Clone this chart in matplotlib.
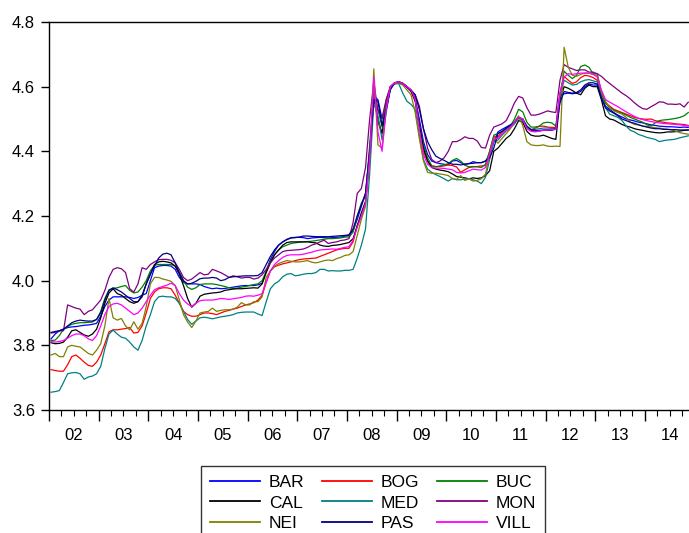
import numpy as np
import matplotlib.pyplot as plt

plt.rcParams['font.family'] = ['Liberation Sans', 'DejaVu Sans']

# monthly log price index by city, Jan 2002 - Nov 2014
BAR = [3.82, 3.835, 3.845, 3.85, 3.855, 3.857, 3.858, 3.86, 3.862, 3.863, 3.865, 3.868,
       3.89, 3.92, 3.94, 3.95, 3.95, 3.95, 3.95, 3.948, 3.945, 3.948, 3.955, 3.96,
       4.0, 4.04, 4.045, 4.047, 4.047, 4.045, 4.035, 4.01, 3.995, 3.99, 3.99, 3.99,
       3.988, 3.982, 3.978, 3.975, 3.977, 3.975, 3.976, 3.978, 3.98, 3.982, 3.984, 3.985,
       3.985, 3.985, 3.987, 3.992, 4.03, 4.065, 4.09, 4.11, 4.12, 4.128, 4.133, 4.134,
       4.134, 4.133, 4.13, 4.132, 4.133, 4.134, 4.133, 4.132, 4.133, 4.134, 4.135, 4.137,
       4.14, 4.155, 4.19, 4.23, 4.27, 4.40, 4.57, 4.56, 4.50, 4.54, 4.595, 4.61,
       4.61, 4.608, 4.6, 4.59, 4.565, 4.5, 4.43, 4.39, 4.37, 4.365, 4.362, 4.36,
       4.358, 4.37, 4.372, 4.365, 4.36, 4.362, 4.368, 4.365, 4.365, 4.37, 4.39, 4.43,
       4.46, 4.468, 4.475, 4.482, 4.49, 4.505, 4.495, 4.475, 4.465, 4.463, 4.465, 4.466,
       4.466, 4.466, 4.468, 4.57, 4.578, 4.58, 4.578, 4.58, 4.585, 4.6, 4.608, 4.605,
       4.605, 4.57, 4.54, 4.53, 4.52, 4.512, 4.506, 4.5, 4.497, 4.494, 4.49, 4.488,
       4.485, 4.482, 4.48, 4.478, 4.477, 4.476, 4.476, 4.475, 4.474, 4.475, 4.474]

BOG = [3.725, 3.722, 3.72, 3.72, 3.74, 3.765, 3.77, 3.76, 3.748, 3.738, 3.735, 3.748,
       3.77, 3.805, 3.842, 3.848, 3.848, 3.85, 3.852, 3.855, 3.838, 3.84, 3.86, 3.9,
       3.945, 3.965, 3.975, 3.978, 3.978, 3.975, 3.955, 3.93, 3.905, 3.895, 3.89, 3.89,
       3.895, 3.9, 3.9, 3.898, 3.895, 3.9, 3.905, 3.908, 3.912, 3.915, 3.92, 3.925,
       3.928, 3.932, 3.94, 3.955, 3.995, 4.03, 4.043, 4.048, 4.052, 4.055, 4.058, 4.062,
       4.065, 4.067, 4.068, 4.069, 4.07, 4.075, 4.08, 4.085, 4.09, 4.095, 4.098, 4.1,
       4.1, 4.12, 4.17, 4.2, 4.24, 4.38, 4.6, 4.49, 4.455, 4.54, 4.6, 4.61,
       4.615, 4.61, 4.6, 4.588, 4.56, 4.48, 4.4, 4.37, 4.355, 4.353, 4.353, 4.355,
       4.358, 4.356, 4.352, 4.335, 4.343, 4.35, 4.352, 4.353, 4.355, 4.356, 4.4, 4.445,
       4.445, 4.46, 4.47, 4.478, 4.492, 4.505, 4.5, 4.475, 4.466, 4.472, 4.477, 4.478,
       4.475, 4.474, 4.474, 4.58, 4.632, 4.62, 4.61, 4.615, 4.628, 4.635, 4.633, 4.628,
       4.62, 4.58, 4.55, 4.54, 4.53, 4.525, 4.52, 4.515, 4.51, 4.505, 4.502, 4.5,
       4.499, 4.5, 4.495, 4.492, 4.49, 4.488, 4.487, 4.485, 4.484, 4.483, 4.48]

BUC = [3.815, 3.816, 3.83, 3.85, 3.858, 3.865, 3.868, 3.87, 3.87, 3.871, 3.872, 3.88,
       3.905, 3.945, 3.972, 3.976, 3.978, 3.982, 3.985, 3.97, 3.962, 3.965, 3.98, 4.0,
       4.03, 4.048, 4.05, 4.05, 4.05, 4.05, 4.045, 4.025, 4.0, 3.98, 3.973, 3.978,
       3.988, 3.99, 3.99, 3.99, 3.988, 3.985, 3.982, 3.978, 3.976, 3.977, 3.98, 3.982,
       3.985, 3.988, 3.99, 4.0, 4.028, 4.06, 4.08, 4.095, 4.105, 4.11, 4.115, 4.117,
       4.119, 4.12, 4.121, 4.122, 4.124, 4.126, 4.128, 4.13, 4.13, 4.131, 4.132, 4.135,
       4.135, 4.15, 4.2, 4.24, 4.26, 4.42, 4.58, 4.53, 4.475, 4.56, 4.6, 4.61,
       4.615, 4.61, 4.6, 4.588, 4.56, 4.48, 4.42, 4.38, 4.355, 4.352, 4.355, 4.358,
       4.362, 4.372, 4.378, 4.37, 4.357, 4.352, 4.353, 4.352, 4.35, 4.36, 4.4, 4.45,
       4.455, 4.46, 4.47, 4.478, 4.5, 4.53, 4.522, 4.49, 4.475, 4.475, 4.478, 4.488,
       4.49, 4.488, 4.478, 4.575, 4.648, 4.635, 4.625, 4.635, 4.662, 4.667, 4.66, 4.64,
       4.64, 4.585, 4.55, 4.535, 4.528, 4.522, 4.518, 4.512, 4.505, 4.5, 4.495, 4.49,
       4.482, 4.478, 4.488, 4.495, 4.497, 4.498, 4.5, 4.502, 4.505, 4.51, 4.52]

CAL = [3.808, 3.805, 3.806, 3.81, 3.825, 3.845, 3.848, 3.84, 3.832, 3.828, 3.835, 3.85,
       3.885, 3.93, 3.962, 3.975, 3.96, 3.955, 3.945, 3.935, 3.93, 3.935, 3.955, 3.99,
       4.02, 4.05, 4.058, 4.06, 4.058, 4.055, 4.045, 4.02, 3.985, 3.945, 3.918, 3.93,
       3.952, 3.958, 3.96, 3.962, 3.963, 3.965, 3.97, 3.972, 3.974, 3.975, 3.975, 3.976,
       3.977, 3.978, 3.977, 3.99, 4.025, 4.055, 4.08, 4.095, 4.11, 4.118, 4.12, 4.12,
       4.12, 4.12, 4.12, 4.118, 4.117, 4.11, 4.107, 4.106, 4.109, 4.11, 4.112, 4.115,
       4.118, 4.13, 4.17, 4.21, 4.245, 4.38, 4.56, 4.5, 4.455, 4.53, 4.595, 4.61,
       4.615, 4.61, 4.6, 4.585, 4.555, 4.48, 4.41, 4.37, 4.35, 4.345, 4.342, 4.34,
       4.337, 4.33, 4.322, 4.32, 4.318, 4.315, 4.318, 4.316, 4.318, 4.325, 4.34, 4.4,
       4.41, 4.425, 4.44, 4.45, 4.47, 4.495, 4.49, 4.462, 4.45, 4.447, 4.447, 4.45,
       4.445, 4.44, 4.437, 4.56, 4.6, 4.595, 4.588, 4.58, 4.575, 4.595, 4.605, 4.6,
       4.6, 4.56, 4.51, 4.5, 4.497, 4.49, 4.483, 4.478, 4.475, 4.47, 4.467, 4.465,
       4.462, 4.46, 4.458, 4.457, 4.458, 4.46, 4.46, 4.461, 4.463, 4.465, 4.466]

MED = [3.655, 3.657, 3.66, 3.685, 3.712, 3.715, 3.716, 3.712, 3.695, 3.702, 3.705, 3.712,
       3.735, 3.79, 3.835, 3.847, 3.835, 3.825, 3.822, 3.81, 3.795, 3.785, 3.815, 3.86,
       3.895, 3.935, 3.95, 3.952, 3.95, 3.95, 3.945, 3.93, 3.905, 3.88, 3.865, 3.875,
       3.885, 3.887, 3.885, 3.882, 3.885, 3.888, 3.89, 3.892, 3.895, 3.9, 3.902, 3.903,
       3.903, 3.903, 3.897, 3.892, 3.935, 3.975, 3.99, 3.998, 4.012, 4.02, 4.022, 4.015,
       4.017, 4.02, 4.022, 4.022, 4.025, 4.035, 4.035, 4.03, 4.031, 4.03, 4.03, 4.032,
       4.032, 4.035, 4.07, 4.11, 4.16, 4.33, 4.55, 4.51, 4.435, 4.52, 4.595, 4.608,
       4.61, 4.58, 4.555, 4.545, 4.53, 4.45, 4.375, 4.345, 4.335, 4.328, 4.322, 4.315,
       4.308, 4.316, 4.312, 4.312, 4.314, 4.316, 4.312, 4.308, 4.3, 4.32, 4.375, 4.43,
       4.435, 4.45, 4.463, 4.472, 4.485, 4.502, 4.495, 4.475, 4.468, 4.468, 4.47, 4.472,
       4.472, 4.471, 4.47, 4.57, 4.62, 4.612, 4.605, 4.607, 4.615, 4.62, 4.622, 4.618,
       4.615, 4.57, 4.535, 4.515, 4.51, 4.505, 4.495, 4.478, 4.465, 4.46, 4.452, 4.448,
       4.443, 4.44, 4.437, 4.43, 4.433, 4.435, 4.436, 4.438, 4.442, 4.445, 4.448]

MON = [3.838, 3.84, 3.845, 3.845, 3.925, 3.92, 3.915, 3.912, 3.895, 3.905, 3.91, 3.925,
       3.94, 3.97, 4.01, 4.035, 4.04, 4.037, 4.025, 3.975, 3.965, 3.99, 4.04, 4.035,
       4.05, 4.058, 4.065, 4.066, 4.066, 4.063, 4.055, 4.035, 4.01, 4.0, 4.005, 4.015,
       4.025, 4.018, 4.02, 4.035, 4.03, 4.025, 4.018, 4.01, 4.015, 4.012, 4.008, 4.01,
       4.01, 4.005, 4.008, 4.018, 4.035, 4.055, 4.07, 4.08, 4.09, 4.093, 4.094, 4.095,
       4.096, 4.098, 4.103, 4.11, 4.114, 4.12, 4.125, 4.115, 4.118, 4.12, 4.124, 4.126,
       4.13, 4.18, 4.27, 4.285, 4.35, 4.50, 4.615, 4.525, 4.505, 4.56, 4.6, 4.612,
       4.615, 4.61, 4.6, 4.59, 4.575, 4.54, 4.47, 4.41, 4.375, 4.365, 4.37, 4.38,
       4.4, 4.43, 4.43, 4.436, 4.445, 4.44, 4.44, 4.432, 4.412, 4.41, 4.45, 4.475,
       4.48, 4.485, 4.495, 4.52, 4.55, 4.57, 4.565, 4.535, 4.512, 4.512, 4.515, 4.52,
       4.525, 4.522, 4.52, 4.62, 4.668, 4.66, 4.655, 4.65, 4.652, 4.652, 4.645, 4.645,
       4.64, 4.632, 4.62, 4.61, 4.6, 4.59, 4.58, 4.572, 4.562, 4.55, 4.54, 4.532,
       4.53, 4.538, 4.545, 4.553, 4.552, 4.546, 4.546, 4.545, 4.547, 4.537, 4.552]

NEI = [3.77, 3.775, 3.765, 3.765, 3.795, 3.8, 3.797, 3.795, 3.785, 3.775, 3.77, 3.785,
       3.805, 3.86, 3.945, 3.885, 3.878, 3.883, 3.86, 3.848, 3.873, 3.85, 3.868, 3.92,
       3.99, 4.01, 4.01, 4.005, 4.002, 3.998, 3.985, 3.94, 3.895, 3.872, 3.855, 3.875,
       3.9, 3.903, 3.905, 3.915, 3.905, 3.908, 3.91, 3.91, 3.912, 3.918, 3.932, 3.925,
       3.925, 3.935, 3.935, 3.95, 4.01, 4.03, 4.045, 4.053, 4.058, 4.062, 4.06, 4.058,
       4.058, 4.06, 4.062, 4.057, 4.055, 4.058, 4.062, 4.064, 4.062, 4.068, 4.072, 4.078,
       4.08, 4.09, 4.14, 4.19, 4.23, 4.37, 4.655, 4.42, 4.41, 4.53, 4.6, 4.61,
       4.612, 4.605, 4.59, 4.575, 4.52, 4.44, 4.37, 4.335, 4.332, 4.332, 4.33, 4.328,
       4.325, 4.316, 4.313, 4.325, 4.31, 4.315, 4.308, 4.31, 4.315, 4.33, 4.39, 4.44,
       4.425, 4.44, 4.455, 4.47, 4.49, 4.51, 4.48, 4.43, 4.42, 4.418, 4.418, 4.42,
       4.416, 4.415, 4.416, 4.415, 4.722, 4.66, 4.635, 4.632, 4.638, 4.642, 4.642, 4.638,
       4.635, 4.585, 4.555, 4.535, 4.525, 4.52, 4.515, 4.505, 4.49, 4.483, 4.482, 4.478,
       4.477, 4.475, 4.473, 4.472, 4.47, 4.468, 4.466, 4.462, 4.458, 4.455, 4.453]

PAS = [3.84, 3.843, 3.845, 3.85, 3.86, 3.87, 3.875, 3.878, 3.876, 3.875, 3.875, 3.88,
       3.9, 3.94, 3.97, 3.978, 3.972, 3.965, 3.955, 3.945, 3.935, 3.935, 3.95, 3.99,
       4.02, 4.045, 4.07, 4.082, 4.085, 4.08, 4.055, 4.025, 4.0, 3.99, 3.992, 3.998,
       4.006, 4.008, 4.008, 4.01, 4.008, 4.0, 4.003, 4.01, 4.012, 4.013, 4.014, 4.015,
       4.015, 4.015, 4.016, 4.025, 4.05, 4.075, 4.095, 4.11, 4.12, 4.127, 4.132, 4.133,
       4.135, 4.138, 4.138, 4.137, 4.136, 4.136, 4.136, 4.136, 4.137, 4.138, 4.139, 4.14,
       4.142, 4.16, 4.2, 4.235, 4.27, 4.40, 4.56, 4.555, 4.48, 4.53, 4.59, 4.612,
       4.615, 4.61, 4.598, 4.588, 4.575, 4.53, 4.47, 4.43, 4.405, 4.385, 4.378, 4.372,
       4.365, 4.36, 4.36, 4.358, 4.36, 4.362, 4.363, 4.365, 4.365, 4.37, 4.38, 4.41,
       4.455, 4.462, 4.472, 4.48, 4.49, 4.505, 4.5, 4.478, 4.467, 4.465, 4.463, 4.465,
       4.465, 4.466, 4.47, 4.55, 4.585, 4.582, 4.58, 4.582, 4.59, 4.605, 4.612, 4.612,
       4.608, 4.565, 4.535, 4.525, 4.518, 4.51, 4.5, 4.495, 4.49, 4.487, 4.482, 4.478,
       4.475, 4.472, 4.47, 4.47, 4.468, 4.468, 4.467, 4.467, 4.466, 4.466, 4.466]

VILL = [3.812, 3.81, 3.812, 3.815, 3.822, 3.83, 3.835, 3.835, 3.83, 3.82, 3.815, 3.83,
        3.86, 3.895, 3.92, 3.928, 3.93, 3.925, 3.915, 3.905, 3.895, 3.9, 3.915, 3.935,
        3.955, 3.972, 3.978, 3.982, 3.986, 3.992, 3.985, 3.96, 3.94, 3.928, 3.92, 3.93,
        3.938, 3.94, 3.94, 3.94, 3.942, 3.945, 3.944, 3.942, 3.944, 3.946, 3.948, 3.952,
        3.953, 3.952, 3.955, 3.96, 3.995, 4.03, 4.05, 4.062, 4.072, 4.078, 4.08, 4.08,
        4.08, 4.082, 4.085, 4.088, 4.092, 4.095, 4.096, 4.097, 4.098, 4.097, 4.1, 4.103,
        4.105, 4.125, 4.165, 4.2, 4.24, 4.38, 4.63, 4.46, 4.40, 4.53, 4.6, 4.612,
        4.615, 4.61, 4.6, 4.59, 4.56, 4.47, 4.39, 4.36, 4.35, 4.348, 4.348, 4.347,
        4.345, 4.343, 4.335, 4.333, 4.335, 4.34, 4.345, 4.343, 4.342, 4.35, 4.39, 4.44,
        4.44, 4.455, 4.465, 4.475, 4.49, 4.505, 4.5, 4.47, 4.462, 4.46, 4.463, 4.465,
        4.466, 4.467, 4.468, 4.58, 4.63, 4.64, 4.638, 4.64, 4.642, 4.642, 4.642, 4.638,
        4.63, 4.59, 4.56, 4.552, 4.545, 4.538, 4.53, 4.522, 4.515, 4.508, 4.502, 4.498,
        4.495, 4.492, 4.49, 4.488, 4.486, 4.485, 4.484, 4.483, 4.482, 4.48, 4.478]

names = ["BAR", "BOG", "BUC", "CAL", "MED", "MON", "NEI", "PAS", "VILL"]
series = [BAR, BOG, BUC, CAL, MED, MON, NEI, PAS, VILL]
colors = ["#0000ff", "#ff0000", "#008000", "#000000", "#008080",
          "#800080", "#808000", "#000080", "#ff00ff"]

# observations sit mid-month on a fractional-year axis
x = 2002 + (np.arange(len(BAR)) + 0.5) / 12

fig = plt.figure(figsize=(6.89, 5.33), dpi=100)
ax = fig.add_axes([49 / 689, 1 - 410 / 533, 639.5 / 689, 388 / 533])

lines = []
for name, vals, col in zip(names, series, colors):
    ln, = ax.plot(x, vals, color=col, lw=0.9, label=name)
    lines.append(ln)

ax.set_xlim(2002, 2014.88)
ax.set_ylim(3.6, 4.8)
yt = np.round(np.arange(3.6, 4.81, 0.2), 1)
ax.set_yticks(yt)
ax.set_yticklabels([f"{v:.1f}" for v in yt])

years = np.arange(2002, 2015)
ax.set_xticks(years)
ax.set_xticklabels([])
quarters = [y + q / 4 for y in years for q in (1, 2, 3) if y + q / 4 < 2014.88]
ax.set_xticks(quarters, minor=True)
for yr in years:
    ax.text(yr + 0.5, -0.067, f"{yr % 100:02d}", transform=ax.get_xaxis_transform(),
            ha="center", va="center", fontsize=12)

ax.tick_params(axis="x", which="major", direction="out", length=8, width=1)
ax.tick_params(axis="x", which="minor", direction="out", length=4, width=0.8)
ax.tick_params(axis="y", direction="out", length=6, width=1, labelsize=12, pad=4)
ax.spines["right"].set_visible(False)
for s in ("left", "top", "bottom"):
    ax.spines[s].set_linewidth(1.0)

# column-major order so rows read BAR BOG BUC / CAL MED MON / NEI PAS VILL
order = [0, 3, 6, 1, 4, 7, 2, 5, 8]
leg = fig.legend([lines[i] for i in order], [names[i] for i in order],
                 ncol=3, loc="upper left", bbox_to_anchor=(201 / 689, 1 - 466 / 533),
                 fontsize=12.5, handlelength=2.9, handletextpad=0.5, columnspacing=1.0,
                 labelspacing=0.32, borderpad=0.5, borderaxespad=0,
                 fancybox=False, edgecolor="#333333", framealpha=1)
leg.get_frame().set_linewidth(1.0)
for h in leg.get_lines():
    h.set_linewidth(1.3)

fig.savefig("out.png", dpi=100)
